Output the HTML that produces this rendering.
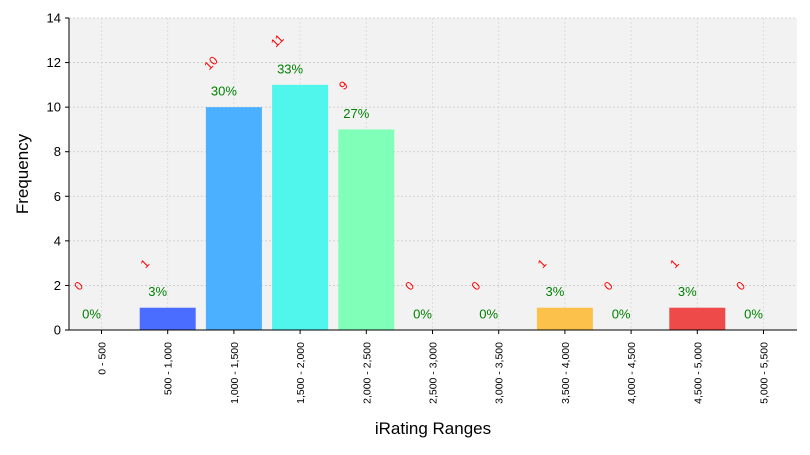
<!DOCTYPE html>
<html><head><meta charset="utf-8"><style>
body{margin:0;background:#fff;font-family:"Liberation Sans",sans-serif;}
</style></head><body>
<svg width="810" height="450" id="c" xmlns="http://www.w3.org/2000/svg" font-family="Liberation Sans, sans-serif"></svg>
<script>
const categories=["0 - 500","500 - 1,000","1,000 - 1,500","1,500 - 2,000","2,000 - 2,500","2,500 - 3,000","3,000 - 3,500","3,500 - 4,000","4,000 - 4,500","4,500 - 5,000","5,000 - 5,500"];
const counts=[0,1,10,11,9,0,0,1,0,1,0];
const percents=["0%","3%","30%","33%","27%","0%","0%","3%","0%","3%","0%"];
const colors=["#4a6cff","#4a6cff","#4ab0ff","#50f5ec","#80ffb8","#80ffb8","#80ffb8","#fcc14a","#fcc14a","#ee4a4a","#ee4a4a"];
const yTicks=[0,2,4,6,8,10,12,14];
const svg=document.getElementById('c');const NS="http://www.w3.org/2000/svg";
const L=69,R=797,T=18,B=330,yMax=14;
const y=v=>B-(B-T)*v/yMax;
const step=66.2,x0=101.5;
const x=i=>x0+i*step;
function mk(t,a,p){const e=document.createElementNS(NS,t);for(const k in a)e.setAttribute(k,a[k]);(p||svg).appendChild(e);return e;}
let bg=mk('rect',{x:L,y:T,width:R-L,height:B-T,fill:'#f2f2f2'});


yTicks.forEach(v=>{
 let g=mk('line',{x1:L,x2:R,y1:y(v),y2:y(v),stroke:'#c8c8c8','stroke-dasharray':'2,2','stroke-width':0.8});
 
 
 mk('line',{x1:L-4,x2:L,y1:y(v),y2:y(v),stroke:'#000'});
 let t=mk('text',{x:L-8,y:y(v)+4.5,'text-anchor':'end','font-size':13});t.textContent=v;
 
 
});
categories.forEach((c,i)=>{
 let g=mk('line',{x1:x(i),x2:x(i),y1:T,y2:B,stroke:'#d8d8d8','stroke-dasharray':'2,2','stroke-width':0.8});
 
 
 if(counts[i]>0){
  let b=mk('rect',{x:x(i)-28,y:y(counts[i]),width:56,height:B-y(counts[i]),fill:colors[i]});
  
  
 }
 mk('line',{x1:x(i),x2:x(i),y1:B,y2:B+4,stroke:'#000'});
 let t=mk('text',{x:0,y:0,'text-anchor':'end','font-size':10.5,transform:`translate(${x(i)+4},${B+12}) rotate(-90)`});t.textContent=c;
 
 
 let cy=y(counts[i]+1.85);
 let ct=mk('text',{x:0,y:0,'text-anchor':'middle','font-size':12,fill:'red',transform:`translate(${x(i)-20},${cy}) rotate(-45)`});ct.textContent=counts[i];
 
 
 let pt=mk('text',{x:x(i)-10,y:y(counts[i]+0.7)+4,'text-anchor':'middle','font-size':13,fill:'green'});pt.textContent=percents[i];
 
 
});
let ax=mk('path',{d:`M${L},${T}V${B}H${R}`,fill:'none',stroke:'#000','stroke-width':1});


let xt=mk('text',{x:433,y:434,'text-anchor':'middle','font-size':17});xt.textContent='iRating Ranges';


let yt=mk('text',{x:0,y:0,'text-anchor':'middle','font-size':17,transform:'translate(28,174) rotate(-90)'});yt.textContent='Frequency';


</script>
</body></html>
